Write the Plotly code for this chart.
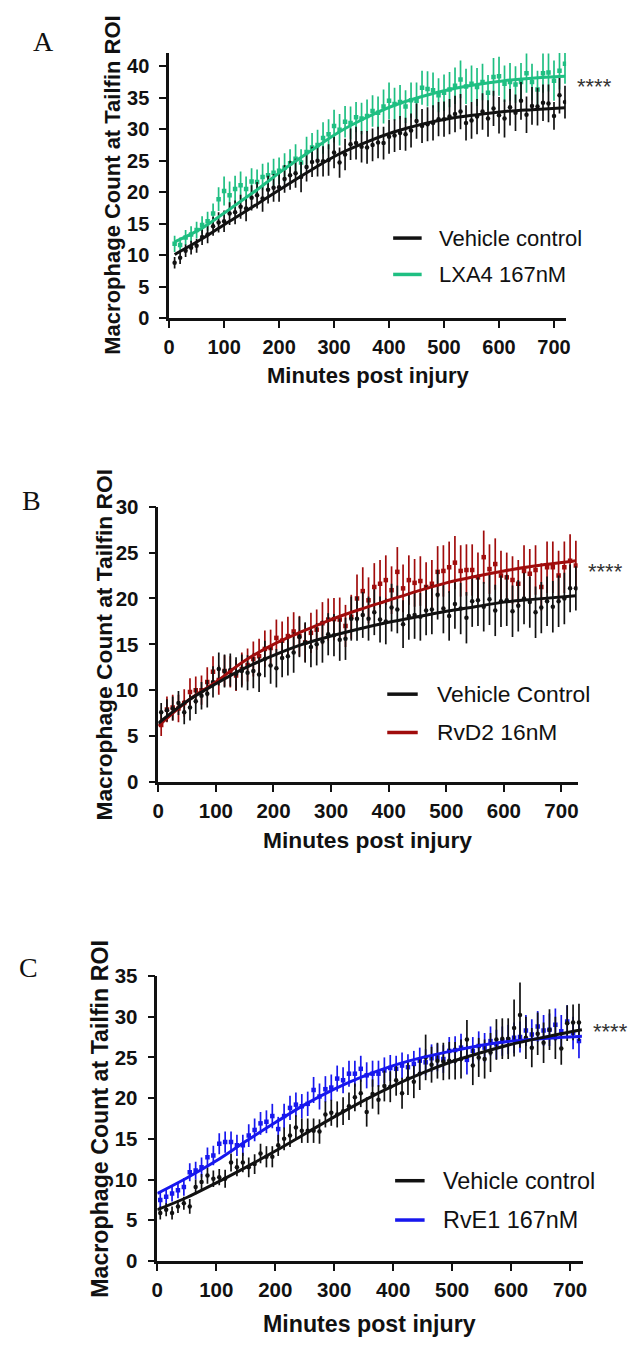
import plotly.graph_objects as go

# ---------------- Panel A: LXA4 vs vehicle ----------------
a_time = list(range(10, 730, 10))
a_vehicle = [8.8, 9.6, 10.7, 11.2, 11.5, 12.9, 13.3, 14.6, 15.2, 15.4,
             16.6, 16.8, 17.7, 17.4, 19.1, 19.5, 19.0, 20.4, 20.7, 20.8,
             22.1, 22.7, 23.0, 22.4, 24.0, 24.8, 25.0, 24.9, 25.1, 26.3,
             24.7, 26.0, 27.6, 27.8, 27.2, 27.1, 27.5, 27.9, 27.8, 28.8,
             29.0, 29.4, 29.2, 29.8, 31.3, 30.5, 30.8, 31.0, 31.6, 31.6,
             32.0, 32.4, 32.8, 31.0, 31.4, 32.0, 32.8, 31.7, 33.3, 32.2,
             31.7, 33.5, 32.6, 34.5, 32.3, 33.7, 33.6, 34.2, 34.1, 32.1,
             35.4, 34.3]
a_vehicle_err = [0.9, 1.0, 1.0, 1.1, 1.1, 1.3, 1.4, 1.5, 1.6, 1.7,
                 1.8, 1.9, 1.9, 2.0, 2.0, 2.1, 2.1, 2.2, 2.2, 2.3,
                 2.2, 2.3, 2.3, 2.4, 2.3, 2.4, 2.5, 2.4, 2.5, 2.5,
                 2.4, 2.5, 2.5, 2.6, 2.5, 2.6, 2.6, 2.5, 2.6, 2.7,
                 2.6, 2.7, 2.6, 2.7, 2.8, 2.7, 2.7, 2.8, 2.7, 2.8,
                 2.8, 2.9, 2.8, 2.8, 2.9, 2.8, 2.9, 2.9, 2.8, 2.9,
                 3.0, 2.9, 2.9, 3.0, 2.9, 3.0, 3.0, 2.9, 3.0, 2.2,
                 2.9, 2.6]
a_lxa4 = [11.8, 11.6, 12.8, 13.3, 14.0, 14.8, 15.4, 16.6, 18.9, 20.2,
          19.5, 20.5, 21.1, 20.5, 21.7, 21.6, 22.4, 22.7, 23.1, 23.4,
          23.9, 24.6, 25.3, 24.7, 26.4, 27.1, 27.5, 28.6, 29.2, 30.5,
          29.9, 31.2, 31.0, 31.9, 31.7, 32.1, 32.9, 32.6, 33.6, 34.5,
          34.0, 34.3, 33.6, 34.6, 34.5, 36.6, 36.4, 36.2, 35.4, 35.8,
          36.3, 36.9, 37.9, 36.8, 37.2, 36.7, 37.5, 35.8, 38.3, 38.4,
          37.2, 37.5, 37.1, 37.5, 38.9, 37.5, 36.3, 38.9, 39.0, 37.7,
          39.3, 40.4]
a_lxa4_err = [1.3, 1.2, 1.2, 1.3, 1.3, 1.4, 1.5, 1.6, 1.9, 2.3,
              2.2, 2.1, 2.2, 2.0, 2.1, 2.0, 2.1, 2.0, 2.2, 2.1,
              2.3, 2.2, 2.3, 2.1, 2.4, 2.3, 2.4, 2.5, 2.4, 2.6,
              2.5, 2.5, 2.6, 2.4, 2.5, 2.6, 2.5, 2.6, 2.7, 2.9,
              2.6, 2.7, 2.6, 2.8, 2.9, 2.7, 2.8, 2.8, 2.7, 2.9,
              2.8, 2.9, 3.0, 2.8, 2.9, 3.0, 2.9, 2.8, 3.0, 3.1,
              2.9, 3.0, 2.9, 3.0, 3.1, 2.9, 3.0, 3.1, 3.0, 3.2,
              3.0, 3.2]
a_fit_time = [10, 60, 110, 160, 210, 260, 310, 360, 410, 460, 510, 560, 610, 660, 720]
a_fit_vehicle = [10.1, 12.6, 15.4, 18.1, 20.9, 23.6, 26.1, 28.0, 29.6, 30.8, 31.7, 32.3, 32.8, 33.1, 33.4]
a_fit_lxa4 = [12.1, 14.3, 17.3, 20.4, 23.7, 26.7, 29.6, 31.9, 33.8, 35.2, 36.3, 37.1, 37.7, 38.1, 38.4]

# ---------------- Panel B: RvD2 vs vehicle ----------------
b_time = list(range(5, 730, 10))
b_vehicle = [7.6, 7.8, 8.0, 8.6, 7.6, 8.1, 8.8, 9.4, 9.6, 10.9,
             12.3, 12.1, 12.2, 11.8, 12.1, 11.9, 12.1, 11.7, 13.4, 12.7,
             12.4, 13.5, 13.7, 14.1, 15.8, 15.2, 14.7, 15.0, 15.3, 16.1,
             16.0, 15.5, 15.6, 17.8, 17.8, 18.2, 17.8, 18.5, 17.7, 17.5,
             19.0, 18.8, 17.2, 18.1, 18.2, 18.0, 18.7, 18.8, 20.4, 18.9,
             18.1, 19.4, 18.9, 17.9, 19.7, 19.8, 19.1, 19.9, 18.7, 19.7,
             19.8, 18.6, 19.2, 20.0, 19.6, 18.5, 19.0, 19.7, 19.1, 19.7,
             20.0, 21.1, 21.1]
b_vehicle_err = [1.0, 1.2, 1.3, 1.3, 1.3, 1.4, 1.4, 1.5, 1.5, 1.7,
                 1.8, 1.8, 1.8, 1.8, 1.8, 1.9, 1.9, 1.9, 2.0, 2.0,
                 2.1, 2.1, 2.1, 2.2, 2.2, 2.2, 2.2, 2.3, 2.3, 2.3,
                 2.3, 2.3, 2.3, 2.4, 2.4, 2.5, 2.4, 2.5, 2.5, 2.5,
                 2.6, 2.6, 2.6, 2.6, 2.6, 2.6, 2.7, 2.7, 2.7, 2.7,
                 2.7, 2.7, 2.8, 2.8, 2.8, 2.8, 2.7, 2.8, 2.8, 2.8,
                 2.8, 2.8, 2.8, 2.8, 2.8, 2.8, 2.8, 2.7, 2.8, 2.8,
                 2.8, 2.6, 2.4]
b_rvd2 = [6.2, 7.9, 8.1, 8.0, 8.6, 9.8, 10.0, 10.0, 10.9, 12.0,
          11.1, 12.1, 12.0, 11.6, 12.3, 12.75, 13.4, 13.7, 14.5, 14.6,
          15.7, 15.4, 15.9, 16.4, 15.9, 15.2, 16.25, 16.6, 17.3, 17.7,
          17.75, 17.7, 17.0, 18.0, 20.0, 20.8, 19.8, 21.25, 21.6, 22.0,
          20.9, 22.9, 21.1, 22.0, 21.7, 21.9, 21.25, 21.6, 22.9, 23.0,
          23.4, 23.9, 23.0, 23.1, 23.1, 22.3, 24.5, 23.2, 23.75, 22.5,
          22.3, 22.0, 21.6, 23.0, 22.7, 23.1, 21.25, 23.4, 23.4, 22.5,
          23.4, 24.1, 23.6]
b_rvd2_err = [1.2, 1.4, 1.4, 1.5, 1.5, 1.5, 1.5, 1.6, 1.6, 1.7,
              1.6, 1.7, 1.7, 1.7, 1.8, 1.8, 1.9, 1.9, 2.0, 2.0,
              2.0, 2.1, 2.1, 2.1, 2.2, 2.1, 2.2, 2.2, 2.3, 2.3,
              2.3, 2.4, 2.3, 2.4, 2.6, 2.6, 2.5, 2.6, 2.6, 2.7,
              2.6, 2.7, 2.6, 2.7, 2.6, 2.7, 2.7, 2.6, 2.8, 2.8,
              2.8, 2.9, 2.8, 2.8, 2.8, 2.7, 2.9, 2.7, 2.8, 2.7,
              2.7, 2.6, 2.6, 2.8, 2.7, 2.7, 2.6, 2.8, 2.8, 2.7,
              2.8, 2.9, 2.7]
b_fit_time = [0, 50, 100, 150, 200, 250, 300, 350, 400, 450, 500, 550, 600, 650, 725]
b_fit_vehicle = [6.4, 8.8, 10.7, 12.4, 13.8, 15.0, 15.9, 16.7, 17.4, 18.0, 18.6, 19.1, 19.6, 19.9, 20.3]
b_fit_rvd2 = [6.1, 8.8, 10.9, 13.2, 15.0, 16.4, 17.7, 18.8, 19.8, 20.8, 21.7, 22.4, 23.0, 23.5, 24.1]

# ---------------- Panel C: RvE1 vs vehicle ----------------
c_time = list(range(5, 720, 10))
c_vehicle = [5.9, 6.3, 5.9, 6.7, 7.1, 6.7, 9.1, 9.7, 10.5, 10.1,
             10.3, 10.1, 12.1, 11.5, 12.1, 11.5, 11.9, 13.2, 12.8, 12.8,
             14.2, 15.0, 15.4, 16.4, 16.0, 16.0, 16.0, 15.9, 18.0, 18.2,
             18.0, 18.4, 19.0, 20.1, 20.6, 18.3, 20.5, 19.8, 21.5, 21.4,
             22.2, 20.6, 22.4, 22.0, 23.0, 25.0, 24.1, 24.6, 24.5, 24.6,
             24.6, 24.8, 27.2, 24.0, 25.0, 24.8, 25.6, 27.2, 27.3, 27.3,
             28.6, 30.2, 27.4, 26.2, 27.9, 26.8, 28.4, 27.4, 26.1, 29.2,
             29.3, 29.3]
c_vehicle_err = [0.8, 0.8, 0.8, 0.8, 0.8, 0.9, 0.9, 1.0, 1.0, 1.0,
                 1.0, 1.1, 1.1, 1.1, 1.2, 1.2, 1.2, 1.2, 1.3, 1.3,
                 1.3, 1.4, 1.4, 1.5, 1.5, 1.5, 1.5, 1.5, 1.6, 1.6,
                 1.6, 1.7, 1.7, 1.7, 1.7, 1.8, 1.8, 1.8, 1.9, 1.9,
                 1.9, 1.9, 2.0, 2.0, 2.0, 2.8, 2.2, 2.2, 2.3, 2.3,
                 2.3, 2.4, 2.4, 2.4, 2.4, 2.4, 2.4, 2.5, 2.5, 2.5,
                 3.5, 4.0, 2.6, 2.4, 2.6, 2.5, 2.5, 2.6, 2.0, 2.2,
                 2.2, 2.3]
c_rve1 = [7.5, 7.9, 8.3, 8.7, 9.1, 10.9, 11.1, 11.5, 12.75, 12.95,
          14.4, 14.6, 14.6, 14.2, 14.2, 15.4, 16.1, 16.9, 17.1, 17.8,
          16.2, 17.8, 18.8, 19.2, 19.0, 19.3, 21.0, 20.2, 21.1, 21.3,
          22.4, 22.2, 23.0, 23.0, 23.6, 22.8, 23.0, 23.0, 23.4, 23.7,
          23.6, 24.0, 23.8, 24.2, 24.6, 24.4, 24.9, 25.0, 24.8, 25.8,
          25.9, 26.2, 24.7, 25.8, 26.4, 26.2, 27.0, 26.6, 27.0, 27.2,
          27.4, 27.5, 28.3, 27.8, 28.8, 28.3, 28.4, 29.0, 28.2, 29.4,
          28.0, 27.0]
c_rve1_err = [1.0, 1.0, 1.0, 1.0, 1.1, 1.1, 1.1, 1.2, 1.2, 1.2,
              1.3, 1.3, 1.3, 1.3, 1.3, 1.4, 1.4, 1.4, 1.4, 1.5,
              1.5, 1.5, 1.5, 1.5, 1.5, 1.5, 1.6, 1.6, 1.6, 1.6,
              1.6, 1.6, 1.6, 1.6, 1.6, 1.6, 1.6, 1.6, 1.6, 1.6,
              1.6, 1.6, 1.6, 1.6, 1.6, 1.6, 1.7, 1.7, 1.7, 1.7,
              1.7, 1.7, 1.8, 1.7, 1.8, 1.8, 1.8, 1.8, 1.8, 1.8,
              1.9, 1.9, 1.9, 1.9, 1.9, 1.9, 2.0, 2.0, 2.0, 2.0,
              2.0, 2.1]
c_fit_time = [0, 50, 100, 150, 200, 250, 300, 350, 400, 450, 500, 550, 600, 650, 720]
c_fit_vehicle = [6.3, 7.8, 9.6, 11.5, 13.5, 15.6, 17.7, 19.7, 21.5, 23.1, 24.5, 25.6, 26.6, 27.4, 28.4]
c_fit_rve1 = [8.3, 10.2, 12.3, 14.7, 17.0, 19.2, 21.1, 22.7, 24.0, 25.0, 25.8, 26.5, 27.0, 27.3, 27.6]

# ---------------- Styling ----------------
W, H = 633, 1348
BLACK = "#111111"
GREEN = "#1FBF82"
RED = "#A00C0C"
BLUE = "#1717EE"
SANS = "Liberation Sans, Arial, sans-serif"
SERIF = "Liberation Serif, Times New Roman, serif"


def px(xp):
    return xp / W


def py(yp):
    return 1 - yp / H


panels = [
    dict(key="", letter="A", letter_pos=(38, 30),
         xdom=(166, 570), ydom=(311.5, 41.7), xr=[0, 722], yr=[0, 42.1],
         title_x=108, xtitle_y=370, tick_size=20, title_size=22, legend_size=22,
         series=[("Vehicle control", a_time, a_vehicle, a_vehicle_err, a_fit_time, a_fit_vehicle, BLACK, "circle"),
                 ("LXA4 167nM", a_time, a_lxa4, a_lxa4_err, a_fit_time, a_fit_lxa4, GREEN, "square")],
         legend=(394, 423, 439, [230, 267]), stars=(579, 72)),
    dict(key="2", letter="B", letter_pos=(26, 497),
         xdom=(155, 581.7), ydom=(783.3, 503.3), xr=[0, 728], yr=[0, 30],
         title_x=100, xtitle_y=842, tick_size=20.5, title_size=22.8, legend_size=22.8,
         series=[("Vehicle Control", b_time, b_vehicle, b_vehicle_err, b_fit_time, b_fit_vehicle, BLACK, "circle"),
                 ("RvD2 16nM", b_time, b_rvd2, b_rvd2_err, b_fit_time, b_fit_rvd2, RED, "square")],
         legend=(388, 419, 437, [694, 733]), stars=(590, 565)),
    dict(key="3", letter="C", letter_pos=(23, 972),
         xdom=(154, 586.7), ydom=(1270.7, 980.7), xr=[0, 721], yr=[0, 35],
         title_x=96, xtitle_y=1335, tick_size=20.5, title_size=23.2, legend_size=23.4,
         series=[("Vehicle control", c_time, c_vehicle, c_vehicle_err, c_fit_time, c_fit_vehicle, BLACK, "circle"),
                 ("RvE1 167nM", c_time, c_rve1, c_rve1_err, c_fit_time, c_fit_rve1, BLUE, "square")],
         legend=(396, 426, 443, [1189, 1229]), stars=(595, 1033)),
]

fig = go.Figure()
annotations = []
shapes = []
layout_axes = {}

for p in panels:
    k = p["key"]
    xa, ya = "x" + k, "y" + k
    vehicle, treated = p["series"]
    # mean +/- SEM per time point: treated first, vehicle drawn over it
    for name, t, v, e, ft, fv, col, sym in (treated, vehicle):
        fig.add_trace(go.Scatter(
            x=t, y=v, mode="markers", xaxis=xa, yaxis=ya, showlegend=False,
            marker=dict(color=col, size=4.5, symbol=sym),
            error_y=dict(type="data", array=e, visible=True, color=col, thickness=1.7, width=0),
            name=name))
    # fitted curves
    for name, t, v, e, ft, fv, col, sym in (treated, vehicle):
        fig.add_trace(go.Scatter(
            x=ft, y=fv, mode="lines", xaxis=xa, yaxis=ya, showlegend=False,
            line=dict(color=col, width=3, shape="spline", smoothing=1.0), name=name + " fit"))

    common = dict(showline=True, linecolor=BLACK, linewidth=2.5, ticks="outside", ticklen=7,
                  tickwidth=2, tickcolor=BLACK, showgrid=False, zeroline=False,
                  tickfont=dict(family=SANS, size=p["tick_size"], color=BLACK, weight="bold"))
    layout_axes["xaxis" + k] = dict(common, domain=[px(p["xdom"][0]), px(p["xdom"][1])],
                                    range=p["xr"], anchor=ya,
                                    tickvals=[0, 100, 200, 300, 400, 500, 600, 700],
                                    ticklabelstandoff=2)
    layout_axes["yaxis" + k] = dict(common, domain=[py(p["ydom"][0]), py(p["ydom"][1])],
                                    range=p["yr"], anchor=xa, dtick=5, tick0=0,
                                    ticklabelstandoff=6)

    # panel letter
    annotations.append(dict(text=p["letter"], x=px(p["letter_pos"][0]), y=py(p["letter_pos"][1]),
                            xref="paper", yref="paper", showarrow=False, xanchor="center", yanchor="middle",
                            font=dict(family=SERIF, size=28, color=BLACK)))
    # axis titles
    ymid = (p["ydom"][0] + p["ydom"][1]) / 2
    xmid = (p["xdom"][0] + p["xdom"][1]) / 2
    annotations.append(dict(text="Macrophage Count at Tailfin ROI", x=px(p["title_x"]), y=py(ymid),
                            xref="paper", yref="paper", showarrow=False, textangle=-90,
                            xanchor="center", yanchor="middle",
                            font=dict(family=SANS, size=p["title_size"], color=BLACK, weight="bold")))
    annotations.append(dict(text="Minutes post injury", x=px(xmid), y=py(p["xtitle_y"]),
                            xref="paper", yref="paper", showarrow=False,
                            xanchor="center", yanchor="middle",
                            font=dict(family=SANS, size=p["title_size"], color=BLACK, weight="bold")))
    # legend
    lx0, lx1, tx, ys = p["legend"]
    for ser, yy in zip((vehicle, treated), ys):
        name, col = ser[0], ser[6]
        shapes.append(dict(type="line", xref="paper", yref="paper", x0=px(lx0), x1=px(lx1),
                           y0=py(yy), y1=py(yy), line=dict(color=col, width=3.5)))
        annotations.append(dict(text=name, x=px(tx), y=py(yy), xref="paper", yref="paper",
                                showarrow=False, xanchor="left", yanchor="middle",
                                font=dict(family=SANS, size=p["legend_size"], color=BLACK)))
    # significance marker
    sx, sy = p["stars"]
    annotations.append(dict(text="****", x=px(sx), y=py(sy + 4), xref="paper", yref="paper",
                            showarrow=False, xanchor="left", yanchor="middle",
                            font=dict(family=SANS, size=22, color="#333333")))

fig.update_layout(
    width=W, height=H, autosize=False,
    margin=dict(l=0, r=0, t=0, b=0),
    paper_bgcolor="white", plot_bgcolor="white",
    annotations=annotations, shapes=shapes,
    **layout_axes,
)

fig.write_html("out.html")
